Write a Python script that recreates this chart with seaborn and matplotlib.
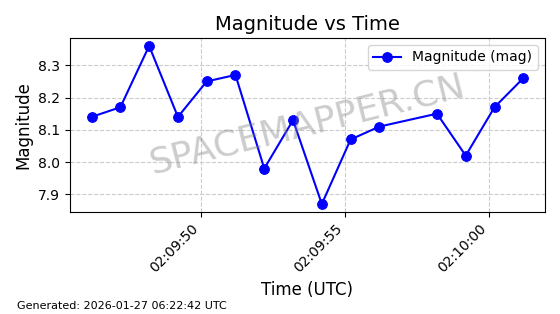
import matplotlib
matplotlib.use("Agg")
import matplotlib.pyplot as plt
import matplotlib.dates as mdates
import seaborn as sns
import pandas as pd

times = ["02:09:46.2", "02:09:47.2", "02:09:48.2", "02:09:49.2", "02:09:50.2",
         "02:09:51.2", "02:09:52.2", "02:09:53.2", "02:09:54.2", "02:09:55.2",
         "02:09:56.2", "02:09:58.2", "02:09:59.2", "02:10:00.2", "02:10:01.2"]
magnitudes = [8.14, 8.17, 8.36, 8.14, 8.25, 8.27, 7.98, 8.13, 7.87, 8.07,
              8.11, 8.15, 8.02, 8.17, 8.26]

df = pd.DataFrame({
    "time": pd.to_datetime(["2026-01-27 " + t for t in times]),
    "mag": magnitudes,
})

fig = plt.figure(figsize=(5.6, 3.14), dpi=100)
ax = fig.add_axes([0.125, 0.325, 0.848, 0.554])

sns.lineplot(data=df, x="time", y="mag", ax=ax, color="blue", marker="o",
             markersize=7, markeredgecolor="blue", linewidth=1.5,
             label="Magnitude (mag)")

ax.grid(True, linestyle="--", color="#cccccc", linewidth=0.8)
ax.set_axisbelow(True)
ax.xaxis.set_major_locator(mdates.SecondLocator(bysecond=[0, 5, 10, 15, 20, 25, 30, 35, 40, 45, 50, 55]))
ax.xaxis.set_major_formatter(mdates.DateFormatter("%H:%M:%S"))
plt.setp(ax.get_xticklabels(), rotation=45, ha="right")
ax.tick_params(labelsize=10)

ax.set_title("Magnitude vs Time", fontsize=14)
ax.set_xlabel("Time (UTC)", fontsize=12)
ax.set_ylabel("Magnitude", fontsize=12)
ax.legend(loc="upper right", fontsize=10)

ax.text(0.5, 0.5, "SPACEMAPPER.CN", transform=ax.transAxes, fontsize=26,
        color="gray", alpha=0.4, rotation=14, ha="center", va="center")

fig.text(0.03, 0.015, "Generated: 2026-01-27 06:22:42 UTC", fontsize=8)

fig.savefig("out.png", dpi=100)
